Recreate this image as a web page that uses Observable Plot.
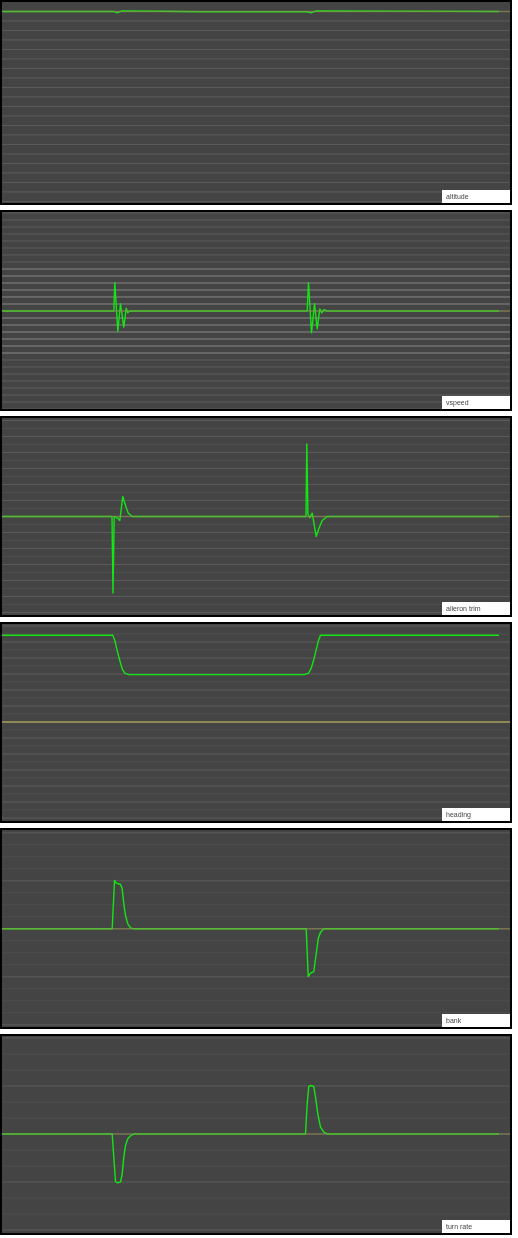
<!DOCTYPE html>
<html><head><meta charset="utf-8">
<script src="https://cdn.jsdelivr.net/npm/d3@7"></script>
<script src="https://cdn.jsdelivr.net/npm/@observablehq/plot@0.6"></script>
<style>
body{margin:0;background:#fff;width:518px;height:1238px;position:relative;overflow:hidden;font-family:"Liberation Sans",Arial,sans-serif}
.panel{position:absolute;left:0;width:512px;box-sizing:border-box;border:2px solid #000;background:#444}
.panel svg{display:block}
.label{position:absolute;right:0;bottom:0;width:68px;height:13px;background:#fff;color:#444;font-size:7px;line-height:13px;padding-left:4px;box-sizing:border-box;white-space:nowrap;-webkit-font-smoothing:antialiased;will-change:transform;transform:translateZ(0)}
</style></head><body>
<script>
// time axis (s) and panel labels
const timeDomain = [2, 510];
const labels = ["altitude", "vspeed", "aileron trim", "heading", "bank", "turn rate"];

// altitude (ft)
const altitudeData = [[2,3000],[113,3000],[115,2992],[116.5,2985],[118.5,2993],[121,3004],[125,3006],[160,3002],[200,2996],[306,2996],[309,2990],[310.5,2985],[312.5,2992],[315,3004],[320,3006],[400,3003],[498,2999]];
const altitudeRef = [[2,3000],[510,3000]];
const altitudeDomain = [978, 3094];

// vertical speed (ft/min)
const vspeedData = [[2,0],[113.3,0],[114.3,403],[117.3,-289],[120,103],[123.3,-231],[125.7,40],[127.3,-26],[129.3,0],[306.7,0],[308,403],[311,-311],[314,103],[316.7,-254],[319.3,31],[321.3,-26],[323.3,21],[326.7,0],[498,0]];
const vspeedRef = [[2,0],[510,0]];
const vspeedDomain = [-1407, 1407];

// aileron trim
const aileronData = [[2,0],[111.5,0],[112.5,-4.79],[113.7,0],[116,-0.08],[117.5,-0.12],[119.3,-0.25],[122.3,1.25],[125,0.69],[127.7,0.21],[131.7,0],[305.5,0],[306.3,4.54],[307.4,0.17],[309.3,-0.08],[311.7,0.21],[315.7,-1.25],[318.3,-0.77],[321.7,-0.25],[326.7,0],[498,0]];
const aileronRef = [[2,0],[510,0]];
const aileronDomain = [-6.19, 6.125];

// heading (deg)
const headingData = [[2,117.1],[112.3,117.1],[114.3,115.5],[116.7,112.3],[119.3,109.2],[121.7,106.6],[124.3,105.25],[128.3,104.8],[304,104.8],[308,105.25],[310.5,106.6],[313,109.2],[315.5,112.3],[318,115.5],[320,117.1],[498,117.1]];
const headingRef = [[2,90],[510,90]];
const headingDomain = [58.91, 120.47];

// bank (deg)
const bankData = [[2,0],[111.7,0],[114,10.06],[116,9.5],[120,9.23],[121.7,8.33],[123.3,5.2],[125,2.77],[127.3,1.04],[130,0.2],[133.3,0],[305.7,0],[307.7,-9.94],[310,-9.25],[313.3,-8.9],[315.7,-5.2],[317.7,-2.08],[320,-0.7],[323.3,0],[498,0]];
const bankRef = [[2,0],[510,0]];
const bankDomain = [-20.56, 20.48];

// turn rate (deg/s)
const turnData = [[2,0],[111.7,0],[113.3,-1.45],[115,-2.97],[116.7,-3.05],[120,-3.01],[121.7,-2.49],[123.3,-1.45],[125,-0.72],[127.3,-0.3],[130.7,-0.07],[134,0],[305,0],[306.7,1.89],[308.3,2.97],[310,3.03],[313.3,2.97],[315,2.3],[317.3,1.26],[320,0.43],[323.3,0.11],[326.7,0],[498,0]];
const turnRef = [[2,0],[510,0]];
const turnDomain = [-6.22, 6.094];

// grid steps [major, minor, bright band half-width]
const gridSteps = [[100, 100, 0], [100, 100, 650], [1, 0.5, 0], [5, 2.5, 0], [10, 2.5, 0], [3, 1, 0]];

const panels = [
  {data: altitudeData, ref: altitudeRef, domain: altitudeDomain},
  {data: vspeedData, ref: vspeedRef, domain: vspeedDomain},
  {data: aileronData, ref: aileronRef, domain: aileronDomain},
  {data: headingData, ref: headingRef, domain: headingDomain},
  {data: bankData, ref: bankRef, domain: bankDomain},
  {data: turnData, ref: turnRef, domain: turnDomain}
];

function ticks(domain, step) {
  const out = [];
  for (let v = Math.ceil(domain[0] / step) * step; v <= domain[1]; v += step) out.push(+v.toFixed(6));
  return out;
}

panels.forEach((p, k) => {
  const [major, minor, band] = gridSteps[k];
  const majorTicks = ticks(p.domain, major);
  const minorTicks = ticks(p.domain, minor).filter(v => !majorTicks.includes(v));
  const brightTicks = band ? majorTicks.filter(v => Math.abs(v) <= band && v !== 0) : [];
  const top = k === 0 ? 0 : 206 * k + 4;
  const h = k === 0 ? 205 : 201;
  const div = document.createElement("div");
  div.className = "panel";
  div.style.top = top + "px";
  div.style.height = h + "px";
  const chart = Plot.plot({
    width: 508, height: h - 4, margin: 0,
    x: {domain: timeDomain, axis: null},
    y: {domain: p.domain, axis: null},
    style: {background: "#444"},
    marks: [
      Plot.ruleY(minorTicks, {stroke: "#4e4e4e", strokeWidth: 1}),
      Plot.ruleY(majorTicks, {stroke: "#5c5c5c", strokeWidth: 1}),
      Plot.ruleY(brightTicks, {stroke: "#7c7c7c", strokeWidth: 1}),
      Plot.line(p.data, {x: d => d[0], y: d => d[1], stroke: "#14e614", strokeWidth: 1.4}),
      Plot.line(p.ref, {x: d => d[0], y: d => d[1], stroke: "#958f50", strokeOpacity: k === 3 ? 0.9 : 0.55, strokeWidth: k === 3 ? 2 : 1.6})
    ]
  });
  div.appendChild(chart);
  const lab = document.createElement("div");
  lab.className = "label";
  lab.textContent = labels[k];
  div.appendChild(lab);
  document.body.appendChild(div);
});
</script>
</body></html>
